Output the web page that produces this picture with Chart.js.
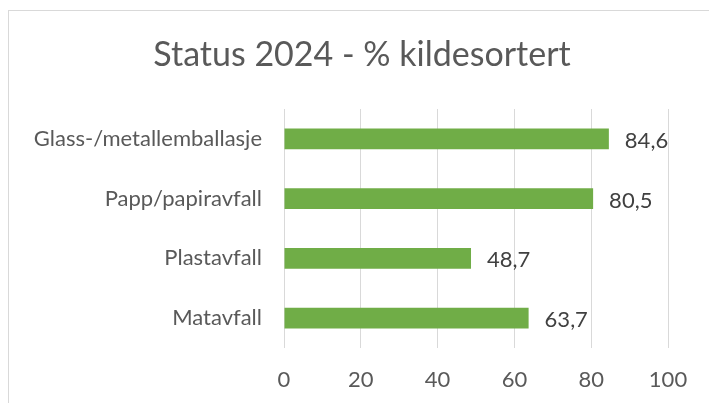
<!DOCTYPE html>
<html>
<head>
<meta charset="utf-8">
<script src="https://cdn.jsdelivr.net/npm/chart.js@4"></script>
<style>
  html, body { margin: 0; padding: 0; background: #fff; overflow: hidden; }
  #wrap { position: relative; width: 709px; height: 403px; }
  #frame { position: absolute; left: 8px; top: 10px; width: 760px; height: 460px;
           border: 1px solid #d9d9d9; box-sizing: border-box; }
  canvas { position: absolute; left: 0; top: 0; }
</style>
</head>
<body>
<div id="wrap">
  <div id="frame"></div>
  <canvas id="myChart" width="709" height="403"></canvas>
</div>
<script>
// data
var categories = ['Glass-/metallemballasje', 'Papp/papiravfall', 'Plastavfall', 'Matavfall'];
var values = [84.6, 80.5, 48.7, 63.7];
var xTicks = [0, 20, 40, 60, 80, 100];
var chartTitle = 'Status 2024 - % kildesortert';

// title centred on the whole chart frame, not only the plot
var frameTitle = {
    id: 'frameTitle',
    afterDraw: function(chart) {
        var ctx = chart.ctx;
        ctx.save();
        ctx.font = '34px Lato';
        ctx.fillStyle = '#595959';
        ctx.textAlign = 'center';
        ctx.textBaseline = 'middle';
        ctx.fillText(chartTitle, 362, 55);
        ctx.restore();
    }
};

// value labels at the end of each bar (norwegian decimal comma)
var valueLabels = {
    id: 'valueLabels',
    afterDatasetsDraw: function(chart) {
        var ctx = chart.ctx;
        var meta = chart.getDatasetMeta(0);
        ctx.save();
        ctx.font = '22px Lato';
        ctx.fillStyle = '#404040';
        ctx.textAlign = 'left';
        ctx.textBaseline = 'middle';
        meta.data.forEach(function(bar, i) {
            var txt = values[i].toFixed(1).replace('.', ',');
            ctx.fillText(txt, bar.x + 16, bar.y + 2);
        });
        ctx.restore();
    }
};

var ctx = document.getElementById('myChart').getContext('2d');
var myChart = new Chart(ctx, {
    type: 'bar',
    data: {
        labels: categories,
        datasets: [{
            data: values,
            backgroundColor: '#70ad47',
            borderWidth: 0,
            categoryPercentage: 1,
            barPercentage: 0.35
        }]
    },
    options: {
        indexAxis: 'y',
        responsive: false,
        animation: false,
        layout: { padding: { top: 109, right: 41, left: 0, bottom: 0 } },
        plugins: {
            legend: { display: false },
            tooltip: { enabled: false },
            title: { display: false }
        },
        scales: {
            x: {
                min: 0,
                max: 100,
                afterBuildTicks: function(scale) {
                    scale.ticks = xTicks.map(function(v) { return { value: v }; });
                },
                afterFit: function(scale) { scale.height = 55; },
                grid: { color: '#d9d9d9', lineWidth: 1, drawTicks: false },
                border: { display: false },
                ticks: {
                    color: '#595959',
                    padding: 19,
                    font: { family: 'Lato', size: 22 }
                }
            },
            y: {
                afterFit: function(scale) { scale.width = 284; },
                grid: { display: false, drawTicks: false },
                border: { display: false },
                ticks: {
                    color: '#595959',
                    padding: 22,
                    font: { family: 'Lato', size: 22 }
                }
            }
        }
    },
    plugins: [valueLabels, frameTitle]
});
</script>
</body>
</html>
